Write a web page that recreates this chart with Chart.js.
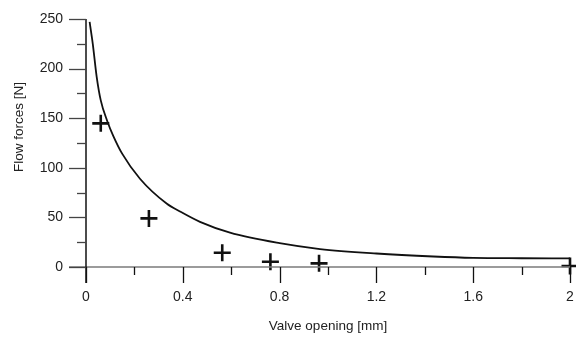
<!DOCTYPE html>
<html>
<head>
<meta charset="utf-8">
<script src="https://cdn.jsdelivr.net/npm/chart.js@4/dist/chart.umd.min.js"></script>
<style>
html,body{margin:0;padding:0;background:#fff;}
#wrap{width:576px;height:337px;position:relative;}
</style>
</head>
<body>
<div id="wrap"><canvas id="c" width="576" height="337"></canvas></div>
<script>
// Model curve
const curveX = [0.015, 0.028, 0.044, 0.061, 0.088, 0.113, 0.15, 0.223, 0.333, 0.388, 0.471, 0.595, 0.8, 0.967, 1.2, 1.435, 1.6, 1.8, 2.0];
const curveY = [247, 225, 192, 168, 147, 132, 114, 89, 64, 56, 45.5, 34.6, 24, 18.1, 13.6, 10.6, 9.2, 8.8, 8.6];
// Measured points
const measX = [0.061, 0.26, 0.563, 0.762, 0.963, 2.0];
const measY = [144.8, 49, 14.4, 5.3, 3.7, 1];
// Axis ticks
const xMajor = [0, 0.4, 0.8, 1.2, 1.6, 2];
const xMinor = [0.2, 0.6, 1.0, 1.4, 1.8];
const yMajor = [0, 50, 100, 150, 200, 250];
const yMinor = [25, 75, 125, 175, 225];
const xTitle = 'Valve opening [mm]';
const yTitle = 'Flow forces [N]';

const FONT = '"Liberation Sans", Arial, sans-serif';

const axesPlugin = {
  id: 'axesPlugin',
  afterDraw(chart) {
    const ctx = chart.ctx;
    const xs = chart.scales.x, ys = chart.scales.y;
    const x0 = xs.getPixelForValue(0), y0 = ys.getPixelForValue(0);
    const yTop = ys.getPixelForValue(250), xEnd = xs.getPixelForValue(2);
    ctx.save();
    ctx.lineCap = 'butt';
    ctx.strokeStyle = '#7a7a7a';
    ctx.lineWidth = 1.5;
    ctx.beginPath(); ctx.moveTo(x0 - 17, y0); ctx.lineTo(xEnd, y0); ctx.stroke();
    ctx.strokeStyle = '#111';
    ctx.lineWidth = 1.5;
    ctx.beginPath(); ctx.moveTo(x0, yTop); ctx.lineTo(x0, y0 + 16); ctx.stroke();
    ctx.strokeStyle = '#444';
    ctx.lineWidth = 1.3;
    yMajor.forEach(v => { const p = Math.round(ys.getPixelForValue(v)) + 0.5; ctx.beginPath(); ctx.moveTo(x0 - 17, p); ctx.lineTo(x0, p); ctx.stroke(); });
    yMinor.forEach(v => { const p = Math.round(ys.getPixelForValue(v)) + 0.5; ctx.beginPath(); ctx.moveTo(x0 - 9, p); ctx.lineTo(x0, p); ctx.stroke(); });
    ctx.strokeStyle = '#111';
    xMajor.forEach(v => { const p = Math.round(xs.getPixelForValue(v)) + 0.5; ctx.beginPath(); ctx.moveTo(p, y0); ctx.lineTo(p, y0 + 16); ctx.stroke(); });
    xMinor.forEach(v => { const p = Math.round(xs.getPixelForValue(v)) + 0.5; ctx.beginPath(); ctx.moveTo(p, y0); ctx.lineTo(p, y0 + 8); ctx.stroke(); });
    ctx.fillStyle = '#222';
    ctx.font = '13.5px ' + FONT;
    ctx.textAlign = 'center';
    ctx.textBaseline = 'middle';
    ctx.fillText(xTitle, (x0 + xEnd) / 2, 326);
    ctx.translate(19, 127);
    ctx.rotate(-Math.PI / 2);
    ctx.fillText(yTitle, 0, 0);
    ctx.restore();
  }
};

new Chart(document.getElementById('c'), {
  type: 'scatter',
  data: {
    datasets: [
      {
        data: curveX.map((x, i) => ({x, y: curveY[i]})),
        showLine: true,
        borderColor: '#111',
        borderWidth: 1.8,
        pointRadius: 0,
        cubicInterpolationMode: 'monotone',
        fill: false,
        clip: false
      },
      {
        data: measX.map((x, i) => ({x, y: measY[i]})),
        showLine: false,
        pointStyle: 'cross',
        pointRadius: 8.5,
        borderColor: '#111',
        borderWidth: 2.6,
        pointHoverRadius: 8.5,
        clip: false
      }
    ]
  },
  options: {
    responsive: false,
    animation: false,
    devicePixelRatio: 1,
    layout: { autoPadding: false, padding: { top: 19, right: 6, left: 0, bottom: 0 } },
    plugins: { legend: { display: false }, tooltip: { enabled: false } },
    scales: {
      x: {
        type: 'linear', min: 0, max: 2,
        border: { display: false },
        grid: { display: false, drawTicks: false },
        afterBuildTicks: s => { s.ticks = xMajor.map(v => ({value: v})); },
        afterFit: s => { s.height = 70; s.paddingLeft = 0; s.paddingRight = 0; },
        ticks: {
          padding: 22,
          color: '#222',
          font: { size: 14, family: FONT },
          callback: v => String(v)
        }
      },
      y: {
        type: 'linear', min: 0, max: 250,
        border: { display: false },
        grid: { display: false, drawTicks: false },
        afterBuildTicks: s => { s.ticks = yMajor.map(v => ({value: v})); },
        afterFit: s => { s.width = 86; s.paddingTop = 0; s.paddingBottom = 0; },
        ticks: {
          padding: 23,
          color: '#222',
          font: { size: 14, family: FONT },
          callback: v => String(v)
        }
      }
    }
  },
  plugins: [axesPlugin]
});
</script>
</body>
</html>
